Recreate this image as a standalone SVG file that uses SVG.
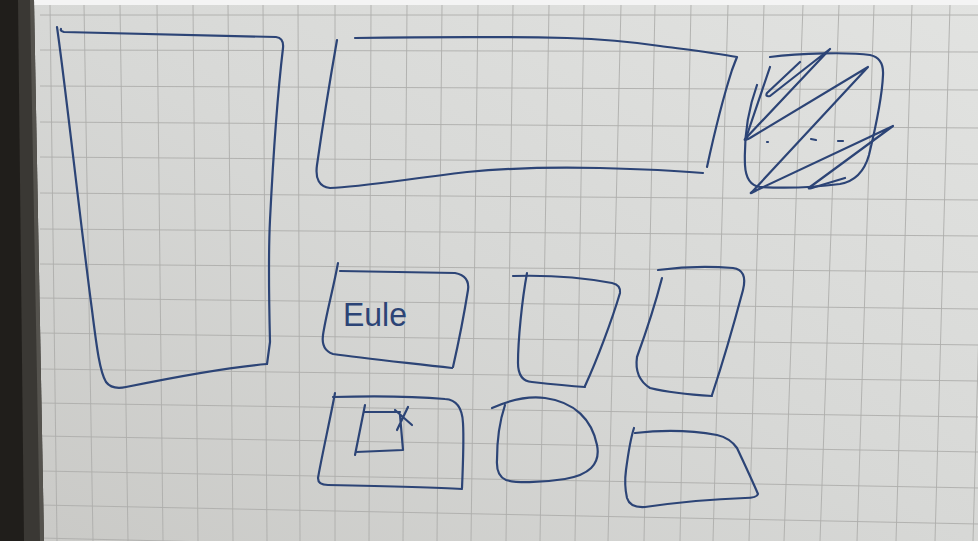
<svg xmlns="http://www.w3.org/2000/svg" width="978" height="541" viewBox="0 0 978 541">
<defs>
<linearGradient id="paper" x1="1" y1="0" x2="0" y2="1">
<stop offset="0" stop-color="#e2e3e1"/>
<stop offset="0.5" stop-color="#d7d8d6"/>
<stop offset="1" stop-color="#c9c9c6"/>
</linearGradient>
<style>
.grid{stroke:#aeaeac;stroke-width:0.9;fill:none}
.ink{stroke:#2c4476;stroke-width:2.2;fill:none;stroke-linecap:round;stroke-linejoin:round}
.hand{font-family:"Liberation Sans","DejaVu Sans",sans-serif;fill:#2c4476}
</style>
</defs>
<!-- paper -->
<rect x="0" y="0" width="978" height="541" fill="url(#paper)"/>
<g id="grid" class="grid">
<path d="M40,15 L978,15 M40,50 L978,52 M40,86 L978,90 M40,122 L978,128 M40,157 L978,164 M40,193 L978,200 M40,229 L978,236 M40,264 L978,272 M40,298 L978,309 M40,333 L978,345 M40,369 L978,381 M40,403 L978,417 M40,436 L978,452 M40,471 L978,488 M40,505 L978,524 M40,538 L978,560"/>
<path d="M50,5 L57,541 M84,5 L93,541 M120,5 L128,541 M157,5 L163,541 M193,5 L198,541 M228,5 L233,541 M263,5 L267,541 M298,5 L300,541 M335,5 L335,541 M371,5 L369,541 M407,5 L403,541 M442,5 L437,541 M478,5 L471,541 M513,5 L506,541 M549,5 L540,541 M584,5 L575,541 M621,5 L608,541 M655,5 L644,541 M691,5 L680,541 M728,5 L713,541 M764,5 L749,541 M803,5 L784,541 M839,5 L820,541 M874,5 L857,541 M912,5 L896,541 M950,5 L935,541 M988,5 L973,541"/>
</g>
<!-- top white strip and left dark frame -->
<rect x="0" y="0" width="978" height="5" fill="#f4f4f4"/>
<polygon points="0,0 34,0 44,541 0,541" fill="#3a3834"/>
<polygon points="0,0 18,0 24,541 0,541" fill="#201e1b"/>
<polygon points="30,0 34,0 44,541 40,541" fill="#55534e"/>

<g id="box-left">
<path class="ink" d="M57,27 C66,90 80,220 92,310 C97,350 100,372 106,382 Q112,390 126,387 C170,378 220,368 267,364"/>
<path class="ink" d="M267,364 L270,342 C269,300 268,260 270,220 C273,160 278,90 283,48 Q284,38 276,37 L64,32 Q60,31 61,29"/>
</g>
<g id="box-top">
<path class="ink" d="M337,40 C330,80 322,130 317,165 Q314,186 330,188 C360,187 400,180 467,172 C520,167 560,167 600,168 C640,169 680,171 703,173"/>
<path class="ink" d="M355,38 C420,37 520,37 567,38 C600,39 633,42 660,46 C690,50 715,53 737,57 Q735,62 732,70 C724,95 715,130 707,167"/>
</g>
<g id="box-scribbled">
<path class="ink" d="M770,57 C800,53 850,52 870,55 Q884,58 883,75 C882,100 875,130 869,155 Q862,180 840,184 C810,188 780,188 760,187 Q746,185 745,165 C744,140 748,110 757,85"/>
<path class="ink" d="M800,62 L767,93 Q765,97 770,96 L830,49 L746,138 Q742,142 750,138 L868,67 L752,192 Q748,195 757,190 L893,126 L810,187 Q806,190 815,187 L845,178"/>
<path class="ink" d="M770,67 L746,138"/>
<path class="ink" d="M767,142 L768,142 M811,139 L816,140 M838,141 L843,141"/>
</g>
<g id="box-eule">
<path class="ink" d="M338,263 C333,290 326,315 323,335 Q321,350 333,354 C360,358 400,362 452,368"/>
<path class="ink" d="M453,367 C458,345 464,315 468,290 Q470,276 455,273 L340,271"/>
<text class="hand" x="343" y="326" font-size="34" textLength="64" lengthAdjust="spacingAndGlyphs">Eule</text>
</g>
<g id="box-2">
<path class="ink" d="M527,273 C522,300 518,340 518,363 Q518,381 532,382 C550,384 570,386 585,387"/>
<path class="ink" d="M585,386 C597,360 612,320 620,293 Q621,285 612,283 C580,277 545,275 513,276"/>
</g>
<g id="box-3">
<path class="ink" d="M662,278 C655,305 645,335 637,357 Q634,378 650,388 C670,393 695,395 712,396"/>
<path class="ink" d="M712,395 C722,365 735,320 743,290 Q748,270 733,268 C710,266 680,267 658,270"/>
</g>
<g id="box-4">
<path class="ink" d="M335,393 C330,420 322,455 318,478 Q318,485 328,485 C380,486 430,487 462,489"/>
<path class="ink" d="M462,488 C463,465 464,440 463,423 Q462,400 445,399 C410,396 370,396 333,397"/>
<path class="ink" d="M365,405 L355,455 M356,452 L403,450 L400,415 M365,412 L400,412 M395,410 L412,425 M408,407 L397,430"/>
</g>
<g id="box-5">
<path class="ink" d="M492,408 C510,400 530,396 545,398 C575,402 592,420 597,445 C601,465 588,475 565,479 C540,483 515,483 506,480 Q496,476 497,460 C497,440 500,420 505,405"/>
</g>
<g id="box-6">
<path class="ink" d="M635,433 C660,430 690,430 717,435 Q730,438 737,448 C745,465 752,480 758,494 Q757,498 745,498 C715,499 680,502 645,507 Q630,508 627,498 Q624,485 626,470 C628,455 630,440 634,428"/>
</g>
<g id="connectors"/>
</svg>
